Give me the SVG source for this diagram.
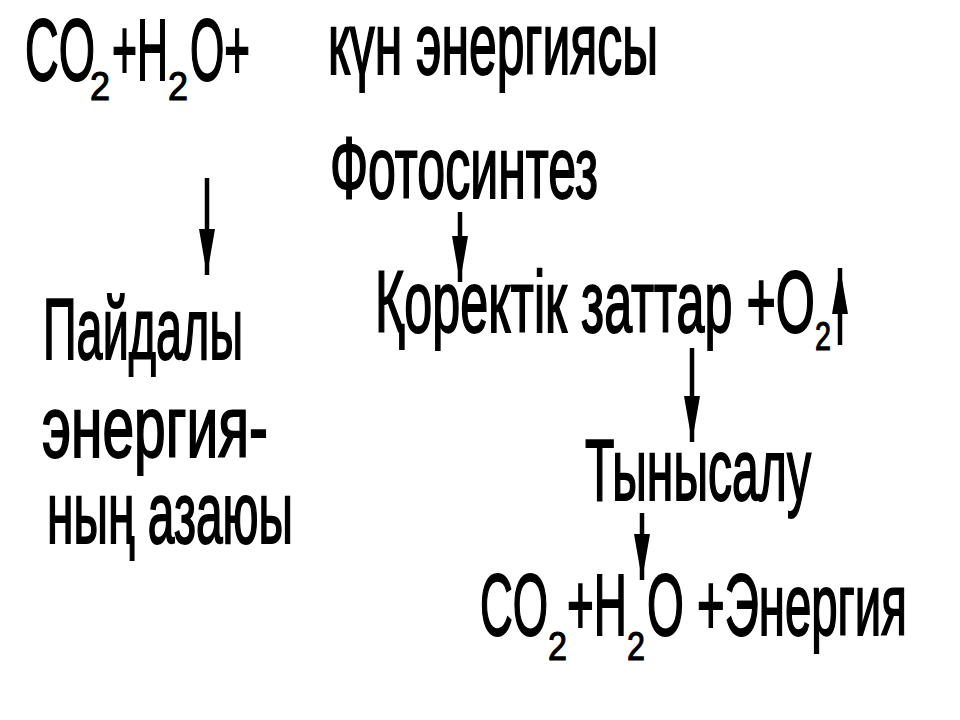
<svg xmlns="http://www.w3.org/2000/svg" width="960" height="720" viewBox="0 0 960 720">
<style>
.t{font-family:"Liberation Sans",Arial,sans-serif;font-size:88px;fill:#000;stroke:#000;stroke-width:2}
.s{font-family:"Liberation Sans",Arial,sans-serif;font-size:40px;fill:#000;stroke:#000;stroke-width:1.2}
.c{stroke:#000;stroke-width:4.5;fill:none}
</style>
<defs>
<marker id="ah" markerUnits="userSpaceOnUse" markerWidth="46" markerHeight="16" refX="46" refY="8" orient="auto">
<path d="M0,0 L46,8 L0,16 Z" fill="#000"/>
</marker>
</defs>
<rect width="960" height="720" fill="#fff"/>
<g id="reactants">
<text class="t" x="25" y="80" font-size="92" textLength="70" lengthAdjust="spacingAndGlyphs">CO</text>
<text class="s" x="90" y="100" textLength="20" lengthAdjust="spacingAndGlyphs">2</text>
<text class="t" x="112" y="80" font-size="92" textLength="56" lengthAdjust="spacingAndGlyphs">+H</text>
<text class="s" x="168" y="100" textLength="20" lengthAdjust="spacingAndGlyphs">2</text>
<text class="t" x="190" y="80" font-size="92" textLength="60" lengthAdjust="spacingAndGlyphs">O+</text>
</g>
<g id="sun-energy">
<text class="t" x="328" y="74" font-size="98" textLength="330" lengthAdjust="spacingAndGlyphs">күн энергиясы</text>
</g>
<g id="photosynthesis">
<text class="t" x="330" y="198" font-size="98" textLength="268" lengthAdjust="spacingAndGlyphs">Фотосинтез</text>
</g>
<g id="nutrients">
<text class="t" x="375" y="332" font-size="86" textLength="440" lengthAdjust="spacingAndGlyphs">Қоректік заттар +О</text>
<text class="s" x="815" y="350" textLength="16" lengthAdjust="spacingAndGlyphs">2</text>
</g>
<g id="respiration">
<text class="t" x="585" y="500" textLength="226" lengthAdjust="spacingAndGlyphs">Тынысалу</text>
</g>
<g id="products">
<text class="t" x="480" y="635" font-size="84" textLength="68" lengthAdjust="spacingAndGlyphs">CO</text>
<text class="s" x="548" y="660" font-size="36" textLength="19" lengthAdjust="spacingAndGlyphs">2</text>
<text class="t" x="567" y="635" font-size="84" textLength="60" lengthAdjust="spacingAndGlyphs">+H</text>
<text class="s" x="627" y="660" font-size="36" textLength="18" lengthAdjust="spacingAndGlyphs">2</text>
<text class="t" x="647" y="635" font-size="84" textLength="260" lengthAdjust="spacingAndGlyphs">O +Энергия</text>
</g>
<g id="energy-loss">
<text class="t" x="43" y="359" font-size="84" textLength="200" lengthAdjust="spacingAndGlyphs">Пайдалы</text>
<text class="t" x="42" y="457" font-size="86" textLength="226" lengthAdjust="spacingAndGlyphs">энергия-</text>
<text class="t" x="47" y="543" font-size="86" textLength="246" lengthAdjust="spacingAndGlyphs">ның азаюы</text>
</g>
<g id="connectors">
<line class="c" x1="207" y1="178" x2="207" y2="275" marker-end="url(#ah)"/>
<line class="c" x1="460" y1="212" x2="460" y2="282" marker-end="url(#ah)"/>
<line class="c" x1="840" y1="345" x2="840" y2="268" marker-end="url(#ah)"/>
<line class="c" x1="692" y1="348" x2="692" y2="442" marker-end="url(#ah)"/>
<line class="c" x1="642" y1="513" x2="642" y2="580" marker-end="url(#ah)"/>
</g>
</svg>
